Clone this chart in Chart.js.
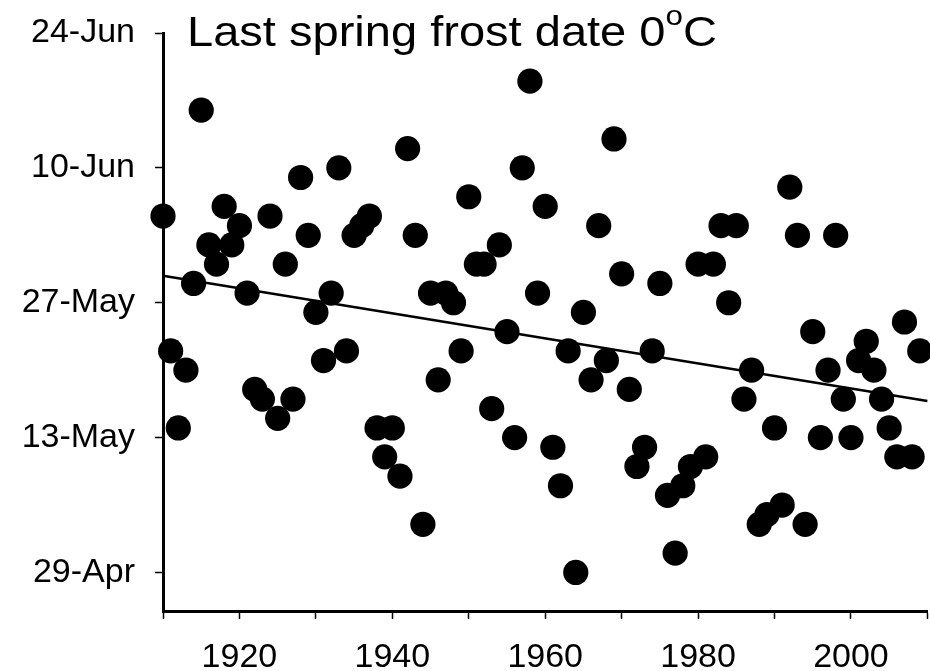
<!DOCTYPE html>
<html>
<head>
<meta charset="utf-8">
<title>Last spring frost date</title>
<script src="https://cdn.jsdelivr.net/npm/chart.js@4.4.1/dist/chart.umd.min.js"></script>
<style>
  html, body { margin: 0; padding: 0; background: #fff; overflow: hidden; }
  #wrap { position: relative; width: 940px; height: 700px; }
  #title {
    position: absolute; left: 187px; top: 11px;
    font-family: 'Liberation Sans', Arial, sans-serif; font-size: 42px; line-height: 42px;
    white-space: nowrap; color: #000;
    transform: scaleX(1.12); transform-origin: left top;
  }
  #title sup { font-size: 28px; position: relative; top: -21px; vertical-align: baseline; }
</style>
</head>
<body>
<div id="wrap">
  <canvas id="frostChart" width="940" height="700"></canvas>
  <div id="title">Last spring frost date 0<sup>o</sup>C</div>
</div>
<script>
// Last day with frost (0 °C) each spring, as day of year (115 = 25-Apr)
const firstYear = 1910;
const frostDay = [
  156, 142, 134, 140, 149, 167, 153, 151, 157, 153,
  155, 148, 138, 137, 156, 135, 151, 137, 160, 154,
  146, 141, 148, 161, 142, 154, 155, 156, 134, 131,
  134, 129, 163, 154, 124, 148, 139, 148, 147, 142,
  158, 151, 151, 136, 153, 144, 133, 161, 170, 148,
  157, 132, 128, 142, 119, 146, 139, 155, 141, 164,
  150, 138, 130, 132, 142, 149, 127, 121, 128, 130,
  151, 131, 151, 155, 147, 155, 137, 140, 124, 125,
  134, 126, 159, 154, 124, 144, 133, 140, 154, 137,
  133, 141, 143, 140, 137, 134, 131, 145, 131, 142
];

// linear trend end points
const trendYears = [1910, 2010];
const trendDays = [149.8, 136.8];

// axis ticks
const yTickValues = [119, 133, 147, 161, 175];
const yTickLabels = ['29-Apr', '13-May', '27-May', '10-Jun', '24-Jun'];
const xTickYears = [1910, 1920, 1930, 1940, 1950, 1960, 1970, 1980, 1990, 2000, 2010];
const xLabelYears = [1920, 1940, 1960, 1980, 2000];

const tickFont = { family: "'Liberation Sans', Arial, sans-serif", size: 34 };

document.addEventListener('DOMContentLoaded', () => {
  const canvas = document.getElementById('frostChart');

  const points = frostDay.map((d, i) => ({ x: firstYear + i, y: d }));
  const trend = trendYears.map((yr, i) => ({ x: yr, y: trendDays[i] }));

  new Chart(canvas, {
    type: 'scatter',
    data: {
      datasets: [
        {
          data: points,
          backgroundColor: '#000',
          borderWidth: 0,
          pointRadius: 12.6,
          pointHoverRadius: 12.6,
          clip: false
        },
        {
          type: 'line',
          data: trend,
          borderColor: '#000',
          borderWidth: 2.5,
          pointRadius: 0,
          fill: false,
          clip: false
        }
      ]
    },
    options: {
      responsive: false,
      animation: false,
      layout: { padding: { top: 33, right: 6, bottom: 0, left: 0 } },
      plugins: {
        legend: { display: false },
        tooltip: { enabled: false },
        title: { display: false }
      },
      scales: {
        x: {
          type: 'linear',
          min: 1910,
          max: 2010,
          border: { display: true, color: '#000', width: 3 },
          grid: { drawOnChartArea: false, drawTicks: true, tickLength: 8, tickWidth: 1.5, tickColor: '#000' },
          afterBuildTicks: (scale) => {
            scale.ticks = xTickYears.map(v => ({ value: v }));
          },
          afterFit: (scale) => {
            // fixed axis band; labels may run past the plot edges
            scale.height = 89;
            scale.paddingLeft = 0;
            scale.paddingRight = 0;
          },
          ticks: {
            autoSkip: false,
            maxRotation: 0,
            color: '#000',
            font: tickFont,
            padding: 18,
            callback: (v) => xLabelYears.includes(v) ? String(v) : ''
          }
        },
        y: {
          type: 'linear',
          min: 115,
          max: 175,
          border: { display: true, color: '#000', width: 3 },
          grid: { drawOnChartArea: false, drawTicks: true, tickLength: 8, tickWidth: 1.5, tickColor: '#000' },
          afterBuildTicks: (scale) => {
            scale.ticks = yTickValues.map(v => ({ value: v }));
          },
          afterFit: (scale) => {
            scale.width = 163;
            scale.paddingTop = 0;
            scale.paddingBottom = 0;
          },
          ticks: {
            autoSkip: false,
            color: '#000',
            font: tickFont,
            padding: 20,
            callback: (v) => {
              const idx = yTickValues.indexOf(v);
              return idx >= 0 ? yTickLabels[idx] : '';
            }
          }
        }
      }
    }
  });
});
</script>
</body>
</html>
